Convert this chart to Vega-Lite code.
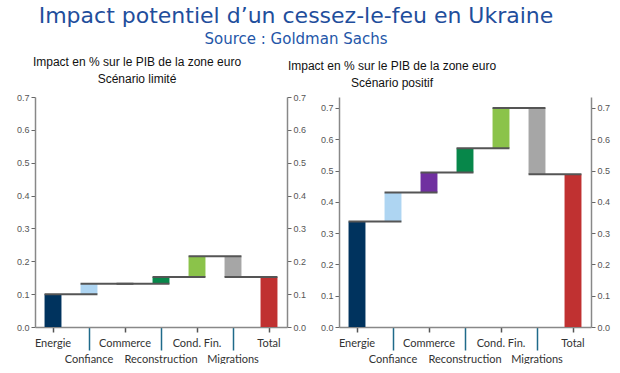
{
  "$schema": "https://vega.github.io/schema/vega-lite/v6.json",
  "padding": {"left": 13, "top": 5, "right": 5, "bottom": 0},
  "bounds": "flush",
  "spacing": 52,
  "title": {
    "text": "Impact potentiel d’un cessez-le-feu en Ukraine",
    "subtitle": "Source : Goldman Sachs",
    "font": "DejaVu Sans", "fontSize": 22, "fontWeight": "normal", "color": "#1f4e9c",
    "subtitleFont": "DejaVu Sans", "subtitleFontSize": 15, "subtitleColor": "#2456a8",
    "subtitlePadding": 4,
    "anchor": "middle", "dx": -17, "offset": 8
  },
  "datasets": {
    "limite": [
      {"cat": "Energie", "start": 0, "end": 0.10, "next": "Confiance"},
      {"cat": "Confiance", "start": 0.10, "end": 0.132, "next": "Commerce"},
      {"cat": "Commerce", "start": 0.132, "end": 0.132, "next": "Reconstruction"},
      {"cat": "Reconstruction", "start": 0.132, "end": 0.152, "next": "Cond. Fin."},
      {"cat": "Cond. Fin.", "start": 0.152, "end": 0.215, "next": "Migrations"},
      {"cat": "Migrations", "start": 0.215, "end": 0.152, "next": "Total"},
      {"cat": "Total", "start": 0, "end": 0.152, "next": null}
    ],
    "positif": [
      {"cat": "Energie", "start": 0, "end": 0.337, "next": "Confiance"},
      {"cat": "Confiance", "start": 0.337, "end": 0.43, "next": "Commerce"},
      {"cat": "Commerce", "start": 0.43, "end": 0.494, "next": "Reconstruction"},
      {"cat": "Reconstruction", "start": 0.494, "end": 0.571, "next": "Cond. Fin."},
      {"cat": "Cond. Fin.", "start": 0.571, "end": 0.70, "next": "Migrations"},
      {"cat": "Migrations", "start": 0.70, "end": 0.488, "next": "Total"},
      {"cat": "Total", "start": 0, "end": 0.488, "next": null}
    ]
  },
  "hconcat": [
    {
      "width": 252, "height": 230,
      "title": {"text": ["Impact en % sur le PIB de la zone euro", "Scénario limité"], "dx": -24},
      "data": {"name": "limite"},
      "layer": [
        {
          "mark": {"type": "bar", "width": {"band": 0.47}},
          "encoding": {
            "x": {"field": "cat", "type": "nominal", "title": null,
              "sort": ["Energie", "Confiance", "Commerce", "Reconstruction", "Cond. Fin.", "Migrations", "Total"],
              "scale": {"paddingInner": 0, "paddingOuter": 0},
              "axis": {
                "title": null, "labelAngle": 0, "labelOverlap": false, "labelBound": false,
                "labelFont": "Lato", "labelFontSize": 11, "labelColor": "#333", "labelBaseline": "top",
                "domainColor": "#888", "domainWidth": 1.5, "tickWidth": 1.5,
                "tickColor": {"condition": {"test": "indexof(['Confiance','Reconstruction','Migrations'], datum.value) >= 0", "value": "#1f6a8a"}, "value": "#555"},
                "tickSize": {"condition": {"test": "indexof(['Confiance','Reconstruction','Migrations'], datum.value) >= 0", "value": 23}, "value": 5},
                "labelPadding": {"condition": {"test": "indexof(['Confiance','Reconstruction','Migrations'], datum.value) >= 0", "value": 3}, "value": 5}
              }
            },
            "y": {"field": "start", "type": "quantitative", "scale": {"domain": [0, 0.7], "nice": false},
              "axis": {"title": null, "orient": "left", "values": [0, 0.1, 0.2, 0.3, 0.4, 0.5, 0.6, 0.7], "format": ".1f", "minExtent": 22, "maxExtent": 22}},
            "y2": {"field": "end"},
            "color": {"field": "cat", "type": "nominal", "legend": null,
              "scale": {"domain": ["Energie", "Confiance", "Commerce", "Reconstruction", "Cond. Fin.", "Migrations", "Total"],
                "range": ["#00335e", "#aed5f2", "#7030a0", "#07874a", "#8bc34a", "#a6a6a6", "#c03131"]}}
          }
        },
        {
          "transform": [{"filter": "datum.next != null"}],
          "mark": {"type": "rule", "color": "#555", "strokeWidth": 2},
          "encoding": {
            "x": {"field": "cat", "type": "nominal", "bandPosition": 0.265, "title": null,
              "sort": ["Energie", "Confiance", "Commerce", "Reconstruction", "Cond. Fin.", "Migrations", "Total"]},
            "x2": {"field": "next", "bandPosition": 0.735},
            "y": {"field": "end", "type": "quantitative",
              "axis": {"title": null, "orient": "right", "values": [0, 0.1, 0.2, 0.3, 0.4, 0.5, 0.6, 0.7], "format": ".1f", "minExtent": 22, "maxExtent": 22}}
          }
        }
      ],
      "resolve": {"axis": {"y": "independent"}}
    },
    {
      "width": 252, "height": 230,
      "title": {"text": ["Impact en % sur le PIB de la zone euro", "Scénario positif"], "dx": -73},
      "data": {"name": "positif"},
      "layer": [
        {
          "mark": {"type": "bar", "width": {"band": 0.47}},
          "encoding": {
            "x": {"field": "cat", "type": "nominal", "title": null,
              "sort": ["Energie", "Confiance", "Commerce", "Reconstruction", "Cond. Fin.", "Migrations", "Total"],
              "scale": {"paddingInner": 0, "paddingOuter": 0},
              "axis": {
                "title": null, "labelAngle": 0, "labelOverlap": false, "labelBound": false,
                "labelFont": "Lato", "labelFontSize": 11, "labelColor": "#333", "labelBaseline": "top",
                "domainColor": "#888", "domainWidth": 1.5, "tickWidth": 1.5,
                "tickColor": {"condition": {"test": "indexof(['Confiance','Reconstruction','Migrations'], datum.value) >= 0", "value": "#1f6a8a"}, "value": "#555"},
                "tickSize": {"condition": {"test": "indexof(['Confiance','Reconstruction','Migrations'], datum.value) >= 0", "value": 23}, "value": 5},
                "labelPadding": {"condition": {"test": "indexof(['Confiance','Reconstruction','Migrations'], datum.value) >= 0", "value": 3}, "value": 5}
              }
            },
            "y": {"field": "start", "type": "quantitative", "scale": {"domain": [0, 0.735], "nice": false},
              "axis": {"title": null, "orient": "left", "values": [0, 0.1, 0.2, 0.3, 0.4, 0.5, 0.6, 0.7], "format": ".1f", "minExtent": 22, "maxExtent": 22}},
            "y2": {"field": "end"},
            "color": {"field": "cat", "type": "nominal", "legend": null,
              "scale": {"domain": ["Energie", "Confiance", "Commerce", "Reconstruction", "Cond. Fin.", "Migrations", "Total"],
                "range": ["#00335e", "#aed5f2", "#7030a0", "#07874a", "#8bc34a", "#a6a6a6", "#c03131"]}}
          }
        },
        {
          "transform": [{"filter": "datum.next != null"}],
          "mark": {"type": "rule", "color": "#555", "strokeWidth": 2},
          "encoding": {
            "x": {"field": "cat", "type": "nominal", "bandPosition": 0.265, "title": null,
              "sort": ["Energie", "Confiance", "Commerce", "Reconstruction", "Cond. Fin.", "Migrations", "Total"]},
            "x2": {"field": "next", "bandPosition": 0.735},
            "y": {"field": "end", "type": "quantitative",
              "axis": {"title": null, "orient": "right", "values": [0, 0.1, 0.2, 0.3, 0.4, 0.5, 0.6, 0.7], "format": ".1f", "minExtent": 22, "maxExtent": 22}}
          }
        }
      ],
      "resolve": {"axis": {"y": "independent"}}
    }
  ],
  "config": {
    "view": {"stroke": null},
    "axis": {"grid": false},
    "axisY": {"domainColor": "#888", "domainWidth": 1.5, "tickColor": "#666", "tickSize": 4, "labelFont": "Liberation Sans", "labelFontSize": 9, "labelColor": "#555", "labelPadding": 2},
    "title": {"font": "Liberation Sans", "fontSize": 12, "fontWeight": "normal", "color": "#111", "lineHeight": 17, "offset": 7}
  }
}
